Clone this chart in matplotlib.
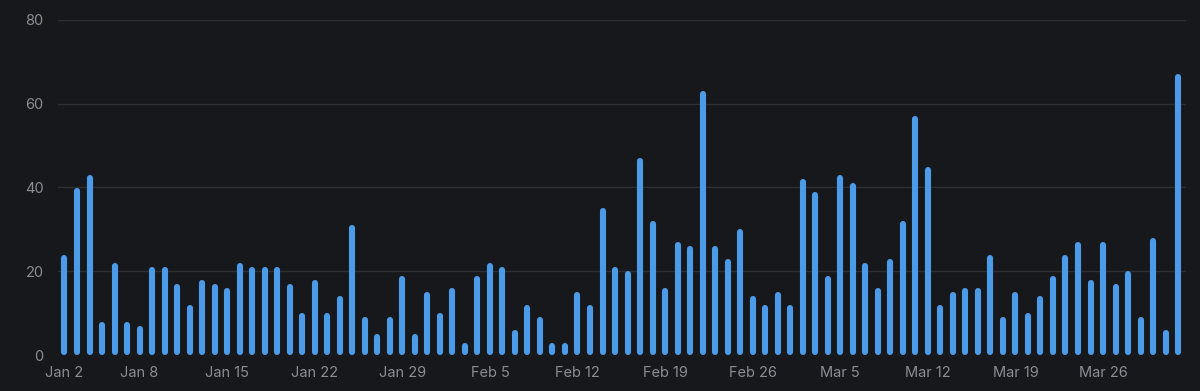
import numpy as np
import pandas as pd
import matplotlib
matplotlib.use("Agg")
import matplotlib.pyplot as plt

# daily counts, Jan 2 .. Apr 1
dates = pd.date_range("2023-01-02", periods=90, freq="D")
counts = [24, 40, 43, 8, 22, 8, 7, 21, 21, 17, 12, 18, 17, 16, 22, 21, 21, 21,
          17, 10, 18, 10, 14, 31, 9, 5, 9,
          19, 5, 15, 10, 16, 3, 19, 22, 21, 6, 12, 9, 3, 3, 15, 12, 35, 21, 20,
          47, 32, 16, 27, 26, 63, 26, 23, 30, 14, 12, 15, 12,
          42, 39, 19, 43, 41, 22, 16, 23, 32, 57, 45, 12, 15, 16, 16, 24, 9, 15,
          10, 14, 19, 24, 27, 18, 27, 17, 20, 9, 28, 6, 67]
tick_labels = ["Jan 2", "Jan 8", "Jan 15", "Jan 22", "Jan 29", "Feb 5", "Feb 12",
               "Feb 19", "Feb 26", "Mar 5", "Mar 12", "Mar 19", "Mar 26"]
y_ticks = [0, 20, 40, 60, 80]

bg = "#17181c"
bar_color = "#4c9be8"
grid_color = "#2e3035"
text_color = "#8a8d93"

plt.rcParams["font.family"] = ["Inter", "DejaVu Sans"]

fig = plt.figure(figsize=(12, 3.91), dpi=100, facecolor=bg)
ax = fig.add_axes([0.048, 0.092, 0.94, 0.857])
ax.set_facecolor(bg)

x = np.arange(len(counts))
ax.set_xlim(-0.55, len(counts) - 0.4)
ax.set_ylim(0, 80)

# rounded bars: thick lines with round caps, pulled in by half the width
lw_pt = 4.4
px_per_unit = ax.get_window_extent().height / 80
off = (lw_pt / 72 * fig.dpi / 2) / px_per_unit
vals = np.array(counts, dtype=float)
ax.vlines(x, off, np.maximum(vals - off, off + 0.01), colors=bar_color,
          linewidth=lw_pt, capstyle="round", zorder=3)

for y in y_ticks:
    ax.axhline(y, color=grid_color, linewidth=1, zorder=1)

ax.set_yticks(y_ticks)
ax.set_yticklabels([str(v) for v in y_ticks])
tick_dates = pd.to_datetime([d + " 2023" for d in tick_labels], format="%b %d %Y")
tick_pos = [(d - dates[0]).days for d in tick_dates]
ax.set_xticks(tick_pos)
ax.set_xticklabels(tick_labels)

ax.tick_params(axis="both", length=0, colors=text_color, labelsize=10.5)
ax.tick_params(axis="x", pad=8)
ax.tick_params(axis="y", pad=10)
for s in ax.spines.values():
    s.set_visible(False)

fig.savefig("out.png", dpi=100, facecolor=bg)
